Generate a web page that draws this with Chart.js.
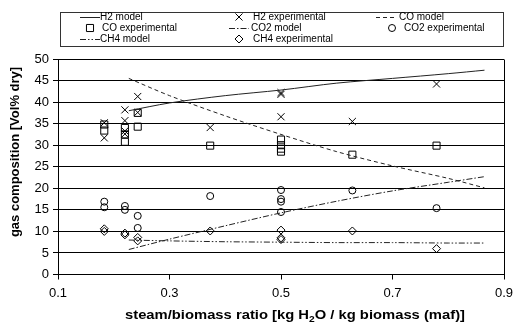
<!DOCTYPE html>
<html>
<head>
<meta charset="utf-8">
<script src="https://cdn.jsdelivr.net/npm/chart.js@4.4.0/dist/chart.umd.min.js"></script>
<style>
html,body{margin:0;padding:0;background:#fff;}
canvas{display:block;}
</style>
</head>
<body>
<canvas id="c" width="515" height="327"></canvas>
<script>
// ---- data ----
const modelX   = [0.227, 0.3, 0.4, 0.5, 0.6, 0.7, 0.8, 0.865];
const h2Model  = [38.0, 39.8, 41.5, 42.8, 44.4, 45.5, 46.6, 47.4];
const coModel  = [45.5, 41.5, 36.8, 32.5, 28.5, 25.2, 22.3, 20.1];
const co2Model = [5.8, 8.2, 11.3, 14.3, 17.0, 19.4, 21.4, 22.7];
const ch4Model = [8.0, 7.8, 7.6, 7.5, 7.4, 7.4, 7.3, 7.3];

const h2ExpX  = [0.183,0.183,0.22,0.22,0.22,0.22,0.243,0.243,0.373,0.5,0.5,0.5,0.628,0.779];
const h2ExpY  = [35.2,31.7,38.2,35.7,33.3,32.6,41.3,37.6,34.1,42.2,41.8,36.6,35.5,44.2];
const coExpX  = [0.183,0.183,0.22,0.22,0.22,0.243,0.243,0.373,0.5,0.5,0.5,0.5,0.628,0.779];
const coExpY  = [34.8,33.4,34.0,32.5,30.8,37.5,34.3,29.9,31.3,30.0,29.2,28.5,27.8,29.9];
const co2ExpX = [0.183,0.183,0.22,0.22,0.243,0.243,0.373,0.5,0.5,0.5,0.5,0.628,0.779];
const co2ExpY = [16.9,15.6,15.9,15.0,13.6,10.8,18.2,19.6,17.5,16.9,14.5,19.5,15.4];
const ch4ExpX = [0.183,0.183,0.22,0.22,0.243,0.243,0.373,0.5,0.5,0.5,0.628,0.779];
const ch4ExpY = [10.6,10.0,9.6,9.2,8.6,7.8,10.1,10.3,8.5,8.1,10.1,6.0];

const xTicks = [0.1, 0.3, 0.5, 0.7, 0.9];
const yTitle = 'gas composition [Vol% dry]';
const xTitleParts = ['steam/biomass ratio [kg H', '2', 'O / kg biomass (maf)]'];

const pts = (xs, ys) => xs.map((x, i) => ({x: x, y: ys[i]}));

const FONT = '"Liberation Sans", Arial, sans-serif';
const INK = '#000';

function modelDS(label, ys, dash) {
  return {label: label, data: pts(modelX, ys), showLine: true, borderColor: '#222',
    borderWidth: 1, borderDash: dash, pointRadius: 0, pointHoverRadius: 0, fill: false, tension: 0.3};
}
function expDS(label, xs, ys, style, r) {
  return {label: label, data: pts(xs, ys), showLine: false, pointStyle: style, pointRadius: r,
    pointBorderColor: INK, pointBackgroundColor: 'rgba(0,0,0,0)', pointBorderWidth: 1,
    borderColor: INK, backgroundColor: 'rgba(0,0,0,0)'};
}

const datasets = [
  modelDS('H2 model', h2Model, []),
  expDS('H2 experimental', h2ExpX, h2ExpY, 'crossRot', 5),
  modelDS('CO model', coModel, [4, 3]),
  expDS('CO experimental', coExpX, coExpY, 'rect', 5),
  modelDS('CO2 model', co2Model, [6, 2, 1.5, 2]),
  expDS('CO2 experimental', co2ExpX, co2ExpY, 'circle', 3.5),
  modelDS('CH4 model', ch4Model, [6, 2, 1.5, 2, 1.5, 2]),
  expDS('CH4 experimental', ch4ExpX, ch4ExpY, 'rectRot', 4)
];

// legend layout: [datasetIndex, kind, markX (or line start), textX, rowY]
const legendItems = [
  [0, 'line', 80, 100, 17], [1, 'pt', 239, 253, 17], [2, 'line', 376, 399, 17],
  [3, 'pt', 90, 102, 28],  [4, 'line', 229, 251, 28], [5, 'pt', 392, 404, 28],
  [6, 'line', 80, 100, 39], [7, 'pt', 239, 253, 39]
];

function drawMarker(ctx, style, r, x, y) {
  ctx.save();
  ctx.strokeStyle = INK; ctx.lineWidth = 1;
  if (Chart.helpers && Chart.helpers.drawPoint) {
    ctx.fillStyle = 'rgba(0,0,0,0)';
    Chart.helpers.drawPoint(ctx, {pointStyle: style, radius: r, borderWidth: 1, rotation: 0}, x, y);
  }
  ctx.restore();
}

const framePlugin = {
  id: 'frameAndText',
  afterDraw(chart) {
    const ctx = chart.ctx, a = chart.chartArea;
    ctx.save();
    // right border of plot area
    ctx.strokeStyle = INK; ctx.lineWidth = 1;
    ctx.beginPath();
    ctx.moveTo(Math.round(a.right) + 0.5, Math.round(a.top) + 0.5);
    ctx.lineTo(Math.round(a.right) + 0.5, Math.round(a.bottom) + 0.5);
    ctx.stroke();

    // legend box
    ctx.strokeStyle = '#333';
    ctx.strokeRect(60.5, 12.5, 443, 34);
    ctx.font = '10px ' + FONT;
    ctx.fillStyle = INK;
    ctx.textBaseline = 'middle';
    ctx.textAlign = 'left';
    legendItems.forEach(([di, kind, mx, tx, ry]) => {
      const ds = chart.data.datasets[di];
      if (kind === 'line') {
        ctx.save();
        ctx.strokeStyle = '#222'; ctx.lineWidth = 1;
        ctx.setLineDash(ds.borderDash || []);
        ctx.beginPath();
        ctx.moveTo(mx, ry + 0.5); ctx.lineTo(mx + 20, ry + 0.5);
        ctx.stroke();
        ctx.restore();
      } else {
        drawMarker(ctx, ds.pointStyle, ds.pointRadius, mx, ry);
      }
      ctx.fillStyle = INK;
      ctx.fillText(ds.label, tx, ry);
    });

    // y-axis title
    ctx.save();
    ctx.font = 'bold 13px ' + FONT;
    ctx.fillStyle = INK;
    ctx.textAlign = 'center';
    ctx.textBaseline = 'middle';
    ctx.translate(15, 152);
    ctx.rotate(-Math.PI / 2);
    ctx.fillText(yTitle, 0, 0);
    ctx.restore();

    // x-axis title with subscript (stretched horizontally to the reference width)
    ctx.save();
    ctx.fillStyle = INK;
    ctx.textBaseline = 'alphabetic';
    const big = 'bold 13px ' + FONT, small = 'bold 9px ' + FONT;
    ctx.font = big; const w1 = ctx.measureText(xTitleParts[0]).width;
    const w3 = ctx.measureText(xTitleParts[2]).width;
    ctx.font = small; const w2 = ctx.measureText(xTitleParts[1]).width;
    const total = w1 + w2 + w3;
    const sx = 340 / total;
    ctx.translate(295 - 170, 319);
    ctx.scale(sx, 1);
    ctx.textAlign = 'left';
    ctx.font = big; ctx.fillText(xTitleParts[0], 0, 0);
    ctx.font = small; ctx.fillText(xTitleParts[1], w1, 2.5);
    ctx.font = big; ctx.fillText(xTitleParts[2], w1 + w2, 0);
    ctx.restore();
    ctx.restore();
  }
};

new Chart(document.getElementById('c'), {
  type: 'scatter',
  data: {datasets: datasets},
  options: {
    responsive: false,
    animation: false,
    devicePixelRatio: 1,
    layout: {padding: {top: 59, right: 11, left: 0, bottom: 0}},
    plugins: {legend: {display: false}, tooltip: {enabled: false}, title: {display: false}},
    scales: {
      x: {
        type: 'linear', min: 0.1, max: 0.9,
        afterBuildTicks: (s) => { s.ticks = xTicks.map(v => ({value: v})); },
        afterFit: (s) => { s.height = 52.5; s.paddingRight = 0; s.paddingLeft = 0; },
        ticks: {color: INK, font: {family: FONT, size: 13}, padding: 6,
          callback: (v) => Number(v).toFixed(1), maxRotation: 0, autoSkip: false},
        grid: {display: true, drawOnChartArea: false, drawTicks: true, tickLength: 5, color: INK},
        border: {display: true, color: INK, width: 1}
      },
      y: {
        min: 0, max: 50,
        afterFit: (s) => { s.width = 58; s.paddingTop = 0; s.paddingBottom = 0; },
        ticks: {stepSize: 5, color: INK, font: {family: FONT, size: 13}, padding: 4},
        grid: {display: true, drawOnChartArea: true, drawTicks: true, tickLength: 5, color: INK, lineWidth: 1},
        border: {display: true, color: INK, width: 1}
      }
    }
  },
  plugins: [framePlugin]
});
</script>
</body>
</html>
